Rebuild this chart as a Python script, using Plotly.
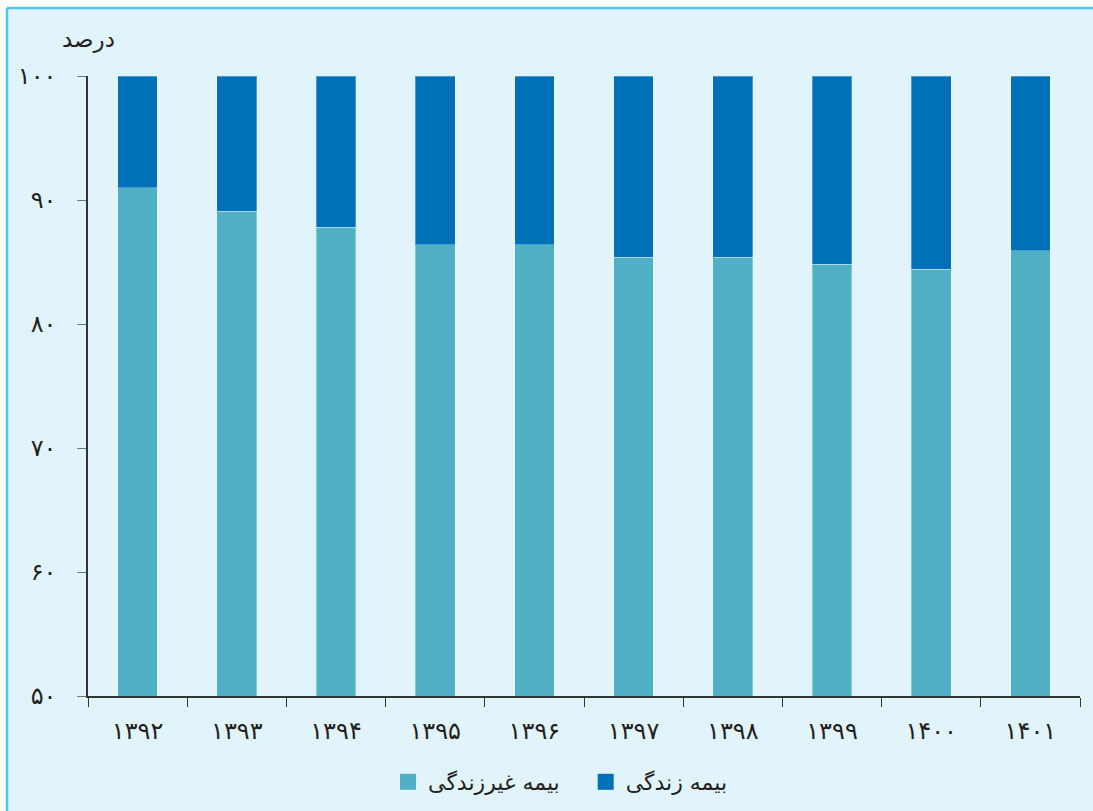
import plotly.graph_objects as go

# ── Colours ──────────────────────────────────────────────────────────────────
BG       = "#E1F3FB"
FRAME    = "#4FC3F7"
NONLIFE  = "#4FAFC4"
LIFE     = "#0070B8"
TEXT     = "#231F20"
FONT     = "DejaVu Sans, sans-serif"

# ── Data (share of premiums, percent) ────────────────────────────────────────
years = ["۱۳۹۲", "۱۳۹۳", "۱۳۹۴", "۱۳۹۵", "۱۳۹۶",
         "۱۳۹۷", "۱۳۹۸", "۱۳۹۹", "۱۴۰۰", "۱۴۰۱"]
non_life = [91.0, 89.1, 87.8, 86.4, 86.4, 85.4, 85.4, 84.8, 84.4, 85.9]
life = [9.0, 10.9, 12.2, 13.6, 13.6, 14.6, 14.6, 15.2, 15.6, 14.1]

y_ticks = [50, 60, 70, 80, 90, 100]
y_tick_text = ["۵۰", "۶۰", "۷۰", "۸۰", "۹۰", "۱۰۰"]

series = [("بیمه غیرزندگی", non_life, NONLIFE), ("بیمه زندگی", life, LIFE)]

fig = go.Figure()
for name, vals, col in series:
    fig.add_trace(go.Bar(
        x=years, y=vals, name=name, width=0.4, showlegend=False,
        marker=dict(color=col, line=dict(color="rgba(255,255,255,0.3)", width=1)),
    ))
# legend entries with bigger square swatches
for name, vals, col in series:
    fig.add_trace(go.Scatter(
        x=[None], y=[None], name=name + "   ", mode="markers",
        marker=dict(symbol="square", size=18, color=col),
    ))

W, H = 1093, 811
L, T = 88, 76          # plot area offset (page margin removed below)
PW, PH = 992, 620      # plot area size

def px_x(p):  # window pixel -> paper x
    return (p - L) / PW

def px_y(p):  # window pixel -> paper y
    return (T + PH - p) / PH

fig.update_layout(
    barmode="stack",
    width=W, height=H,
    paper_bgcolor=BG,
    plot_bgcolor=BG,
    font=dict(family=FONT, color=TEXT, size=22),
    margin=dict(l=L, r=W - L - PW, t=T, b=H - T - PH),
    showlegend=True,
    legend=dict(
        orientation="h", xref="container", yref="container",
        x=0.522, xanchor="center", y=(H - 782) / H, yanchor="middle",
        bgcolor="rgba(0,0,0,0)", font=dict(size=22, color=TEXT),
        itemwidth=30, traceorder="normal", itemsizing="trace",
    ),
    xaxis=dict(
        type="category", showgrid=False, zeroline=False,
        showline=True, linecolor="#333333", linewidth=1.5,
        ticks="outside", tickson="boundaries", ticklen=9, tickcolor="#333333",
        ticklabelstandoff=12,
        tickfont=dict(size=24, color=TEXT),
    ),
    yaxis=dict(
        range=[50, 100], showgrid=False, zeroline=False,
        showline=True, linecolor="#333333", linewidth=1.5,
        ticks="outside", ticklen=9, tickcolor="#777777",
        tickvals=y_ticks, ticktext=y_tick_text,
        ticklabelstandoff=16,
        tickfont=dict(size=24, color=TEXT),
    ),
    shapes=[
        # white strips outside the framed panel
        dict(type="rect", xref="paper", yref="paper",
             x0=px_x(-5), x1=px_x(W + 5), y0=px_y(8), y1=px_y(-5),
             fillcolor="white", line=dict(width=0), layer="above"),
        dict(type="rect", xref="paper", yref="paper",
             x0=px_x(-5), x1=px_x(7), y0=px_y(H + 5), y1=px_y(-5),
             fillcolor="white", line=dict(width=0), layer="above"),
        # frame on the top and left edges of the panel
        dict(type="line", xref="paper", yref="paper",
             x0=px_x(7), x1=px_x(W + 5), y0=px_y(8), y1=px_y(8),
             line=dict(color=FRAME, width=2.5), layer="above"),
        dict(type="line", xref="paper", yref="paper",
             x0=px_x(7), x1=px_x(7), y0=px_y(H + 5), y1=px_y(8),
             line=dict(color=FRAME, width=2.5), layer="above"),
    ],
    annotations=[
        dict(text="درصد", xref="paper", yref="paper",
             x=0.0, y=px_y(40), xanchor="center", yanchor="middle",
             showarrow=False, font=dict(size=23, color=TEXT)),
    ],
)

page_js = (
    "document.body.style.margin='0';"
    "document.documentElement.style.overflow='hidden';"
    "document.body.style.overflow='hidden';"
)
fig.write_html("out.html", post_script=page_js,
               config={"displayModeBar": False})
